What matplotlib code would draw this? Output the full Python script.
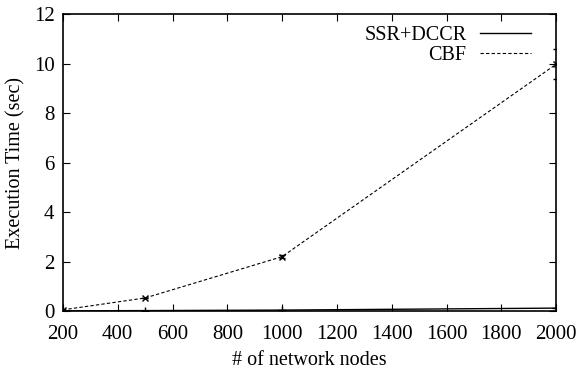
import numpy as np
import matplotlib.pyplot as plt

plt.rcParams['font.family'] = ['Liberation Serif', 'DejaVu Serif']

nodes = [200, 500, 1000, 2000]
ssr_dccr = [0.01, 0.02, 0.04, 0.12]
cbf = [0.05, 0.53, 2.2, 9.98]
cbf_err = [0.0, 0.0, 0.05, 0.6]

fig = plt.figure(figsize=(5.77, 3.73), dpi=100)
ax = fig.add_axes([0.109, 0.166, 0.855, 0.796])

ax.plot(nodes, ssr_dccr, '-', color='black', lw=1.0, label='SSR+DCCR')
ax.plot(nodes, ssr_dccr, '+', color='black', ms=6)
ax.plot(nodes, cbf, '--', color='black', lw=0.8, dashes=(3, 2), label='CBF')
ax.errorbar(nodes, cbf, yerr=cbf_err, fmt='x', color='black', ms=4,
            elinewidth=0.5, capsize=2)

ax.set_xlim(200, 2000)
ax.set_ylim(0, 12)
ax.set_xticks(np.arange(200, 2001, 200))
ax.set_yticks(np.arange(0, 13, 2))
ax.tick_params(direction='in', top=True, right=True, labelsize=15, length=5)
ax.tick_params(axis='x', pad=10)
ax.tick_params(axis='y', pad=6)
for s in ax.spines.values():
    s.set_linewidth(1.2)

ax.set_xlabel('# of network nodes', fontsize=14.5, labelpad=5)
ax.set_ylabel('Execution Time (sec)', fontsize=14.5, labelpad=6)

ax.legend(loc='upper right', bbox_to_anchor=(0.973, 1.0), frameon=False,
          markerfirst=False, fontsize=14.5, handlelength=2.5, handletextpad=0.7,
          borderaxespad=0.3, labelspacing=0.05, borderpad=0.3)

fig.savefig('out.png', dpi=100)
